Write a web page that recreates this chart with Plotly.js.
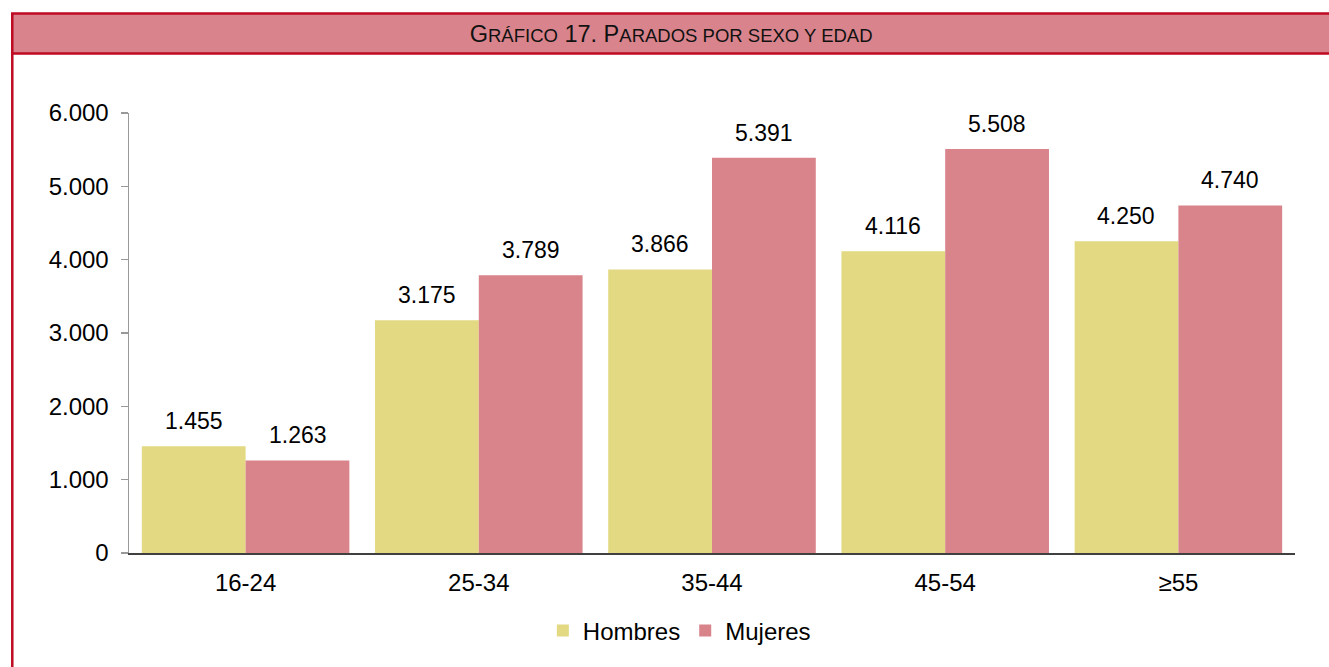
<!DOCTYPE html>
<html>
<head>
<meta charset="utf-8">
<script src="https://cdn.plot.ly/plotly-3.0.1.min.js"></script>
<style>
html,body{margin:0;padding:0;background:#fff;}
#chart{width:1329px;height:667px;}
</style>
</head>
<body>
<div id="chart"></div>
<script>
var categories = ["16-24", "25-34", "35-44", "45-54", "\u226555"];
var hombres = [1455, 3175, 3866, 4116, 4250];
var mujeres = [1263, 3789, 5391, 5508, 4740];
var seriesNames = ["Hombres", "Mujeres"];
var yTicks = [0, 1000, 2000, 3000, 4000, 5000, 6000];
var yTickLabels = ["0", "1.000", "2.000", "3.000", "4.000", "5.000", "6.000"];

var FONT = "Liberation Sans, Arial, sans-serif";
var colH = "#E2D982";
var colM = "#D9838B";

function fmt(v){ return v.toString().replace(/\B(?=(\d{3})+(?!\d))/g, "."); }

var traces = [
  {type:"bar", name:seriesNames[0], x:categories, y:hombres, marker:{color:colH}, hoverinfo:"x+y"},
  {type:"bar", name:seriesNames[1], x:categories, y:mujeres, marker:{color:colM}, hoverinfo:"x+y"}
];

var annotations = [];
categories.forEach(function(c, i){
  annotations.push({x:c, y:hombres[i], xref:"x", yref:"y", text:fmt(hombres[i]), showarrow:false,
    xshift:-52, yshift:10, yanchor:"bottom", font:{family:FONT, size:23, color:"#000"}});
  annotations.push({x:c, y:mujeres[i], xref:"x", yref:"y", text:fmt(mujeres[i]), showarrow:false,
    xshift:52, yshift:10, yanchor:"bottom", font:{family:FONT, size:23, color:"#000"}});
});

var bandColor = "#D9848C";
var borderColor = "#BE0A22";
var shapes = [
  {type:"rect", xref:"paper", yref:"paper", x0:-0.1012, x1:1.04, y0:1.134, y1:1.2273, fillcolor:bandColor, line:{width:0}, layer:"below"},
  {type:"line", xref:"paper", yref:"paper", x0:-0.1012, x1:1.04, y0:1.2262, y1:1.2262, line:{color:borderColor, width:2.5}},
  {type:"line", xref:"paper", yref:"paper", x0:-0.1012, x1:1.04, y0:1.1353, y1:1.1353, line:{color:borderColor, width:2.5}},
  {type:"line", xref:"paper", yref:"paper", x0:-0.1001, x1:-0.1001, y0:1.2273, y1:-0.3, line:{color:borderColor, width:2.5}}
];

var layout = {
  width:1329, height:667,
  margin:{l:129, r:34, t:113, b:114},
  paper_bgcolor:"#fff", plot_bgcolor:"#fff",
  font:{family:FONT, size:24, color:"#000"},
  barmode:"group", bargap:0.11, bargroupgap:0,
  separators:",.",
  showlegend:true,
  title:{
    text:"G<span style=\"font-size:18.5px\">RÁFICO</span> 17. P<span style=\"font-size:18.5px\">ARADOS POR SEXO Y EDAD</span>",
    font:{family:FONT, size:23.5, color:"#111"},
    xref:"container", yref:"container", x:0.505, xanchor:"center", y:0.949, yanchor:"middle"
  },
  xaxis:{
    type:"category", showgrid:false, zeroline:false,
    showline:true, linecolor:"#404040", linewidth:1.5,
    ticks:"", tickfont:{family:FONT, size:24, color:"#000"},
    ticklabelstandoff:8, fixedrange:true
  },
  yaxis:{
    range:[0,6000], showgrid:false, zeroline:false,
    showline:true, linecolor:"#999", linewidth:1.5,
    ticks:"outside", ticklen:7, tickcolor:"#999", tickwidth:1.5,
    tickvals:yTicks, ticktext:yTickLabels,
    tickfont:{family:FONT, size:24, color:"#000"},
    ticklabelstandoff:7, fixedrange:true
  },
  legend:{
    orientation:"h", x:0.472, xanchor:"center", y:-0.177, yanchor:"middle",
    font:{family:FONT, size:24, color:"#000"}, itemwidth:30, traceorder:"normal",
    bgcolor:"rgba(0,0,0,0)"
  },
  annotations:annotations,
  shapes:shapes
};

Plotly.newPlot("chart", traces, layout, {displayModeBar:false, staticPlot:true});
</script>
</body>
</html>
